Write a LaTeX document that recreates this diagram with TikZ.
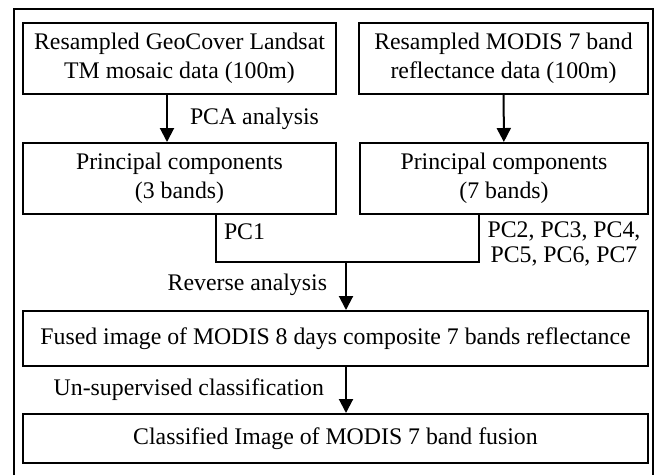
\documentclass[tikz,border=0pt]{standalone}
\usepackage{fontspec}
\setmainfont{Liberation Serif}
\usetikzlibrary{arrows.meta}
\begin{document}
\begin{tikzpicture}[x=1pt,y=-1pt,line width=2pt,
    box/.style={draw,align=center,inner sep=0pt,font=\fontsize{23.8}{28.5}\selectfont},
    lbl/.style={inner sep=0pt,font=\fontsize{23.8}{24.5}\selectfont},
    >={Triangle[width=14pt,length=14pt]}]
  \useasboundingbox (0,0) rectangle (658,475);
  \draw (14,475) -- (14,9) -- (653,9) -- (653,475);
  \draw
    (179.5,58.5) node[box,minimum width=313pt,minimum height=71pt] (0){Resampled GeoCover Landsat\\TM mosaic data (100m)}
    (503.5,58.5) node[box,minimum width=289pt,minimum height=71pt] (1){Resampled MODIS 7 band\\reflectance data (100m)}
    (179.5,178.5) node[box,minimum width=313pt,minimum height=71pt] (2){Principal components\\(3 bands)}
    (504,178.5) node[box,minimum width=288pt,minimum height=71pt] (3){Principal components\\(7 bands)}
    (335.5,338.5) node[box,minimum width=625pt,minimum height=55pt] (4){Fused image of MODIS 8 days composite 7 bands reflectance}
    (335.5,438.5) node[box,minimum width=625pt,minimum height=49pt] (5){Classified Image of MODIS 7 band fusion};
  \coordinate (m) at (346,262);
  \begin{scope}[->]
    \draw ([xshift=-12.5pt]0.south) to ([xshift=-12.5pt]2.north);
    \draw (1) to (3);
    \draw (m) to (m |- 4.north);
    \draw (m |- 4.south) to (m |- 5.north);
  \end{scope}
  \draw ([xshift=36.5pt]2.south) |- (m) -| ([xshift=-25pt]3.south);
  \node[lbl,anchor=base west] (pca) at (189,124) {PCA analysis};
  \node[lbl,anchor=base west] (pc1) at (223,239) {PC1};
  \node[lbl,align=center] (pcs) at (564,244) {PC2, PC3, PC4,\\PC5, PC6, PC7};
  \node[lbl,anchor=base east] (rev) at (328,290) {Reverse analysis};
  \node[lbl,anchor=base east] (uns) at (325,395) {Un-supervised classification};
\end{tikzpicture}
\end{document}
